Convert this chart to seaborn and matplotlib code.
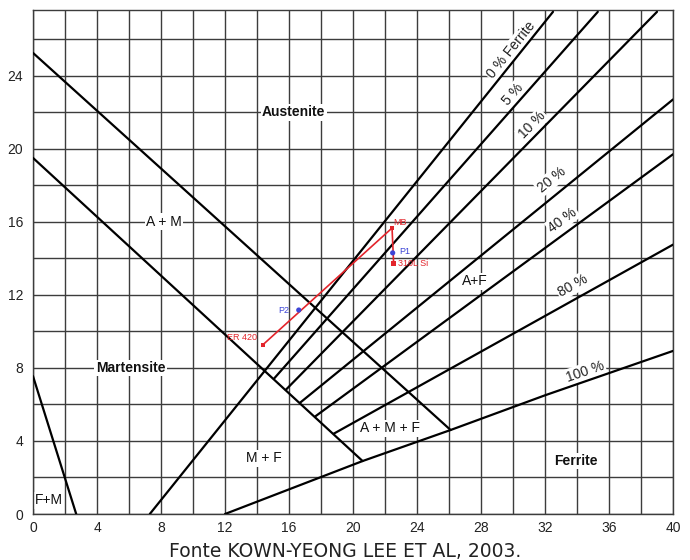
"""Schaeffler diagram with the dilution path of a dissimilar weld."""

from __future__ import annotations

import matplotlib

matplotlib.use("Agg")
import matplotlib.pyplot as plt
import numpy as np
import pandas as pd
import seaborn as sns

# Cr equivalent (x) / Ni equivalent (y)
FM_CR = [0.0, 2.7]
FM_NI = [7.55, 0.0]
AM_UPPER_CR = [0.0, 26.1]
AM_UPPER_NI = [25.25, 4.6]
AM_LOWER_CR = [0.0, 20.6]
AM_LOWER_NI = [19.5, 2.9]

FERRITE_NAMES = ["0 % Ferrite", "5 %", "10 %", "20 %", "40 %", "80 %", "100 %"]
FERRITE_CR = [
    [7.3, 32.5],
    [15.05, 35.3],
    [15.8, 39.0],
    [16.7, 40.0],
    [17.65, 40.0],
    [18.8, 40.0],
    [12.0, 20.6, 26.1, 32.0, 40.0],
]
FERRITE_NI = [
    [0.0, 27.5],
    [7.4, 27.5],
    [6.8, 27.5],
    [6.1, 22.7],
    [5.35, 19.7],
    [4.4, 14.75],
    [0.0, 2.9, 4.6, 6.5, 8.93],
]

PATH_NAMES = ["ER 420", "MB", "310L Si"]
PATH_CR = [14.37, 22.44, 22.54]
PATH_NI = [9.27, 15.66, 13.71]

POINT_NAMES = ["P2", "P1"]
POINT_CR = [16.61, 22.48]
POINT_NI = [11.17, 14.3]

X_TICKS = list(range(0, 41, 4))
Y_TICKS = list(range(0, 25, 4))

RED = "#e3242b"
BLUE = "#3d45d6"
NARROW = ["Liberation Sans Narrow", "Liberation Sans", "DejaVu Sans"]


def boundary_frame() -> pd.DataFrame:
    rows = []
    segments = [("fm", FM_CR, FM_NI), ("am_up", AM_UPPER_CR, AM_UPPER_NI), ("am_low", AM_LOWER_CR, AM_LOWER_NI)]
    segments += [(name, cr, ni) for name, cr, ni in zip(FERRITE_NAMES, FERRITE_CR, FERRITE_NI)]
    for name, cr, ni in segments:
        for order, (x, y) in enumerate(zip(cr, ni)):
            rows.append({"line": name, "order": order, "cr": x, "ni": y})
    return pd.DataFrame(rows)


sns.set_theme(style="white")
plt.rcParams["font.family"] = NARROW

fig = plt.figure(figsize=(6.9, 5.6), dpi=100)
ax = fig.add_axes([33 / 690, 46 / 560, 640 / 690, 504 / 560])

ax.set_xlim(0, 40)
ax.set_ylim(0, 27.6)
ax.set_xticks(X_TICKS)
ax.set_yticks(Y_TICKS)
ax.set_xticks(np.arange(0, 41, 2), minor=True)
ax.set_yticks(np.arange(0, 28, 2), minor=True)
ax.grid(which="both", color="#3c3c3c", lw=1.0)
ax.set_axisbelow(True)
ax.tick_params(which="both", length=0, labelsize=10, colors="#222222")
ax.tick_params(axis="y", pad=7)
ax.tick_params(axis="x", pad=5)
for spine in ax.spines.values():
    spine.set_color("#3c3c3c")
    spine.set_linewidth(1.0)

sns.lineplot(
    data=boundary_frame(), x="cr", y="ni", units="line", estimator=None, sort=False,
    color="black", lw=1.6, ax=ax, legend=False, zorder=3,
)
ax.set_xlabel("")
ax.set_ylabel("")

box = dict(facecolor="white", edgecolor="none", pad=1.0)

# ferrite percentage labels, rotated with their line
label_pos = [(29.9, 25.4), (30.0, 23.0), (31.2, 21.3), (32.4, 18.3), (33.1, 16.1), (33.75, 12.5), (34.5, 7.8)]
for name, cr, ni, (tx, ty) in zip(FERRITE_NAMES, FERRITE_CR, FERRITE_NI, label_pos):
    angle = np.degrees(np.arctan2(ni[-1] - ni[-2], cr[-1] - cr[-2]))
    ax.text(tx, ty, name, rotation=angle, transform_rotates_text=True, rotation_mode="anchor",
            ha="center", va="center", fontsize=10, color="#222222", bbox=box, zorder=2)

regions = [
    ("Austenite", 16.3, 22.0, "bold"),
    ("A + M", 8.2, 16.0, "normal"),
    ("Martensite", 6.1, 8.0, "bold"),
    ("F+M", 1.0, 0.75, "normal"),
    ("M + F", 14.4, 3.05, "normal"),
    ("A + M + F", 22.3, 4.7, "normal"),
    ("A+F", 27.6, 12.75, "normal"),
    ("Ferrite", 33.9, 2.9, "bold"),
]
for text, x, y, weight in regions:
    ax.text(x, y, text, ha="center", va="center", fontsize=10, fontweight=weight,
            color="#111111", bbox=box, zorder=2)

# dilution path and mixed points
path = pd.DataFrame({"cr": PATH_CR, "ni": PATH_NI, "name": PATH_NAMES})
sns.lineplot(data=path, x="cr", y="ni", sort=False, estimator=None, color=RED, lw=1.2, ax=ax, zorder=4)
sns.scatterplot(data=path, x="cr", y="ni", color=RED, marker="s", s=10, edgecolor="none", ax=ax, zorder=5)
points = pd.DataFrame({"cr": POINT_CR, "ni": POINT_NI, "name": POINT_NAMES})
sns.scatterplot(data=points, x="cr", y="ni", color=BLUE, s=14, edgecolor="none", ax=ax, zorder=6)
ax.set_xlabel("")
ax.set_ylabel("")

offsets = {"ER 420": (-4, 5, "right"), "MB": (1, 4, "left"), "310L Si": (3, 0, "left"),
           "P1": (5, 1, "left"), "P2": (-7, 0, "right")}
for name, x, y, color in list(zip(PATH_NAMES, PATH_CR, PATH_NI, [RED] * 3)) + list(
        zip(POINT_NAMES, POINT_CR, POINT_NI, [BLUE] * 2)):
    dx, dy, ha = offsets[name]
    ax.annotate(name, (x, y), xytext=(dx, dy), textcoords="offset points", ha=ha, va="center",
                fontsize=6.5, color=color, zorder=7)

fig.text(0.5, 1 - 557 / 560, "Fonte KOWN-YEONG LEE ET AL, 2003.", ha="center", va="baseline",
         fontsize=13.5, family=["DejaVu Sans"], color="#222222")

fig.savefig("out.png", dpi=100)
plt.close(fig)
